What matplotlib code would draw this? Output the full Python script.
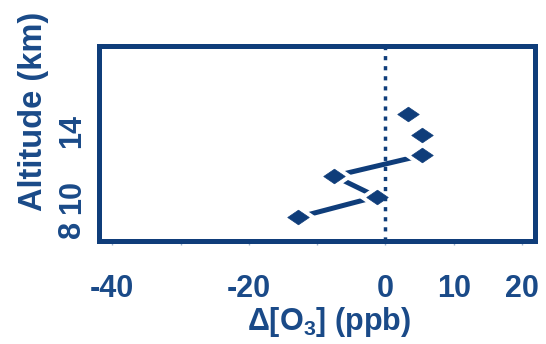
import matplotlib
matplotlib.use("Agg")
import matplotlib.pyplot as plt
from matplotlib.path import Path

# Ozone change profile (lowest to highest level)
delta_o3 = [-12.8, -1.3, -7.5, 5.3, 5.4, 3.3]      # ppb
altitude = [8.75, 10.0, 11.25, 12.5, 13.75, 15.0]  # km
n_connected = 4  # the lower levels are joined by a line

x_ticks = [-40, -30, -20, -10, 0, 10, 20]
x_ticklabels = ["-40", "", "-20", "", "0", "10", "20"]
y_ticks = [8, 10, 14]
y_ticklabels = ["8", "10", "14"]

navy = "#0f3d7a"
text_col = "#1a4a88"

plt.rcParams["font.family"] = ["Liberation Sans", "DejaVu Sans"]
plt.rcParams["font.weight"] = "bold"
plt.rcParams["axes.labelweight"] = "bold"
plt.rcParams["mathtext.fontset"] = "custom"
plt.rcParams["mathtext.rm"] = "Liberation Sans:bold"
plt.rcParams["mathtext.default"] = "rm"

fig = plt.figure(figsize=(5.46, 3.44), dpi=100)
ax = fig.add_axes([0.1822, 0.2994, 0.7985, 0.5669])

# flattened diamond marker
diamond = Path([(-1, 0), (0, 0.68), (1, 0), (0, -0.68), (-1, 0)],
               [Path.MOVETO, Path.LINETO, Path.LINETO, Path.LINETO, Path.CLOSEPOLY])

ax.plot(delta_o3[:n_connected], altitude[:n_connected], color=navy, lw=3.6,
        solid_capstyle="butt", zorder=2)
ax.plot(delta_o3, altitude, ls="none", marker=diamond, ms=25,
        mfc="white", mec="white", zorder=3)
ax.axvline(0, color=navy, lw=2.5, ls=(0, (1.2, 1.7)), zorder=4)
ax.plot(delta_o3, altitude, ls="none", marker=diamond, ms=15.5,
        mfc=navy, mec=navy, mew=0.5, zorder=5)

ax.set_xlim(-41.87, 21.96)
ax.set_ylim(7.315, 19.13)

ax.set_xticks(x_ticks)
ax.set_xticklabels(x_ticklabels)
ax.set_yticks(y_ticks)
ax.set_yticklabels(y_ticklabels, rotation=90, va="center")

ax.tick_params(axis="x", length=3, width=1, color="#9fb4cf", pad=21,
               labelsize=22, labelcolor=text_col)
ax.tick_params(axis="y", length=0, pad=9, labelsize=22, labelcolor=text_col)

for s in ax.spines.values():
    s.set_color(navy)
    s.set_linewidth(3.6)

ax.set_xlabel(r"Δ[O$_3$] (ppb)", fontsize=22, color=text_col)
ax.xaxis.set_label_coords(0.527, -0.33)
ax.set_ylabel("Altitude (km)", fontsize=23.5, color=text_col)
ax.yaxis.set_label_coords(-0.115, 0.664)

fig.savefig("out.png", dpi=100)
